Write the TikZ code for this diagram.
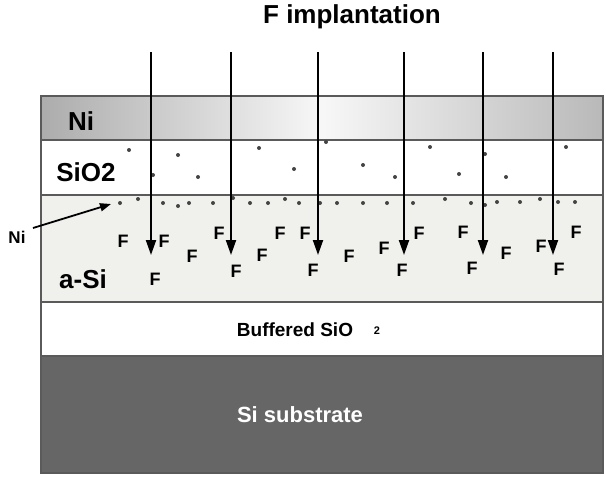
\documentclass[tikz,border=0pt]{standalone}
\usepackage{fontspec}
\setmainfont{Liberation Sans}
\usetikzlibrary{arrows.meta}
\definecolor{edgegray}{HTML}{5A5A5A}
\definecolor{asifill}{HTML}{F0F0EC}
\definecolor{subfill}{HTML}{666666}
\definecolor{dotgray}{HTML}{444444}
\tikzset{
  layer/.style={draw=edgegray, line width=1.5pt},
  lbl/.style={font=\fontsize{26}{26}\selectfont\bfseries, inner sep=0pt, anchor=center},
  fl/.style={font=\fontsize{18}{18}\selectfont\bfseries, inner sep=0pt, anchor=center},
  ion/.style={line width=2pt, -{Triangle[length=15pt,width=10pt]}},
  nidot/.style={fill=dotgray, draw=none},
}
\begin{document}
\begin{tikzpicture}[x=1pt,y=-1pt]
\useasboundingbox (0,0) rectangle (606,477);
% layers
\shade[left color=gray!65, right color=gray!55, middle color=gray!6] (41,96) rectangle (603,140);
\draw[layer] (41,96) rectangle (603,140);
\draw[layer, fill=white] (41,140) rectangle (603,195);
\draw[layer, fill=asifill] (41,195) rectangle (603,302);
\draw[layer, fill=white] (41,302) rectangle (603,356);
\draw[layer, fill=subfill] (41,356) rectangle (603,473);
% layer labels
\node[lbl] (lni) at (81,121.5) {Ni};
\node[lbl] (lsio) at (86,172) {SiO2};
\node[lbl] (lasi) at (83,279) {a-Si};
\node[font=\fontsize{19}{19}\selectfont\bfseries, inner sep=0pt] (lbuf) at (295,330) {Buffered SiO};
\node[font=\fontsize{11}{11}\selectfont\bfseries, inner sep=0pt] (lbuf2) at (377,331) {2};
\node[font=\fontsize{22}{22}\selectfont\bfseries, text=white, inner sep=0pt] (lsub) at (300,415) {Si substrate};
\node[font=\fontsize{26}{26}\selectfont\bfseries, inner sep=0pt] (title) at (352,17) {F implantation};
% Ni dots in SiO2
\foreach \x/\y in {129/150,178/155,153/175,198/177,259/148,294/169,326/142,363/165,430/147,395/177,459/174,485/154,506/177,566/147}
  \fill[nidot] (\x,\y) circle (2);
% Ni dots at a-Si top
\foreach \x/\y in {120/203,138/199,163/203,178/206,189/203,213/203,233/198,250/203,268/203,285/199,299/203,320/203,337/203,363/203,387/203,413/203,445/199,471/203,485/205,497/202,520/202,540/199,558/202,575/202}
  \fill[nidot] (\x,\y) circle (2);
% F atoms
\foreach \x/\y [count=\i] in {123/241,164/241,155/279,192/256,219/233,236/271,262/255,280/233,305/233,313/270,349/256,384/248,419/233,402/270,463/232,472/268,506/253,541/246,576/232,559/269}
  \node[fl] (f\i) at (\x,\y) {F};
% implantation arrows
\foreach \x [count=\i] in {151,231,318,404,483,553} {
  \coordinate (s\i) at (\x,52);
  \coordinate (e\i) at (\x,255);
  \draw[ion] (s\i) -- (e\i);
}
% Ni pointer
\node[font=\fontsize{17}{17}\selectfont\bfseries, inner sep=0pt] (nilab) at (17,237) {Ni};
\coordinate (nitip) at (111,204);
\draw[line width=1.8pt, -{Triangle[length=11pt,width=8pt]}] (33,228) -- (nitip);
\end{tikzpicture}
\end{document}
